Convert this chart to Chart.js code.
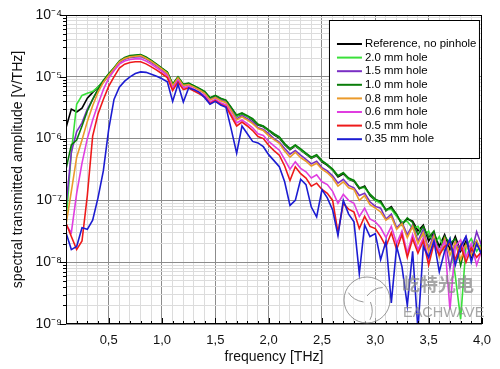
<!DOCTYPE html>
<html>
<head>
<meta charset="utf-8">
<style>body{margin:0;background:#fff}</style>
</head>
<body>
<canvas id="myChart" width="500" height="369"></canvas>
<script src="https://cdn.jsdelivr.net/npm/chart.js"></script>
<script>
// frequency axis, THz
const freq = [0.10,0.15,0.20,0.25,0.30,0.35,0.40,0.45,0.50,0.55,
  0.60,0.65,0.70,0.75,0.80,0.85,0.90,0.95,1.00,1.05,
  1.10,1.15,1.20,1.25,1.30,1.35,1.40,1.45,1.50,1.55,
  1.60,1.65,1.70,1.75,1.80,1.85,1.90,1.95,2.00,2.05,
  2.10,2.15,2.20,2.25,2.30,2.35,2.40,2.45,2.50,2.55,
  2.60,2.65,2.70,2.75,2.80,2.85,2.90,2.95,3.00,3.05,
  3.10,3.15,3.20,3.25,3.30,3.35,3.40,3.45,3.50,3.55,
  3.60,3.65,3.70,3.75,3.80,3.85,3.90,3.95,4.00];

// spectral amplitude, V/THz
const ref = [1.5e-6,3.0e-6,2.7e-6,3.1e-6,4.5e-6,5.6e-6,6.8e-6,8.5e-6,1.08e-5,1.35e-5,
  1.75e-5,2.0e-5,2.1e-5,2.15e-5,2.2e-5,2.0e-5,1.8e-5,1.55e-5,1.35e-5,1.17e-5,
  7.4e-6,9.8e-6,7.4e-6,7.7e-6,7.0e-6,6.3e-6,5.6e-6,4.5e-6,4.9e-6,4.4e-6,
  4.1e-6,3.1e-6,2.3e-6,2.5e-6,2.3e-6,2.0e-6,1.66e-6,1.55e-6,1.35e-6,1.15e-6,
  1.02e-6,8.0e-7,6.6e-7,7.6e-7,6.5e-7,5.6e-7,4.8e-7,5.3e-7,4.2e-7,3.7e-7,
  3.1e-7,2.4e-7,2.7e-7,2.2e-7,2.05e-7,1.55e-7,1.7e-7,1.2e-7,1.0e-7,9.8e-8,
  6.8e-8,7.9e-8,5.8e-8,4.2e-8,5.0e-8,4.6e-8,3.2e-8,4.0e-8,2.2e-8,3.0e-8,
  1.8e-8,2.8e-8,1.6e-8,2.6e-8,1.5e-8,2.2e-8,1.2e-8,2.0e-8,1.4e-8];
const hole20 = [4.5e-8,6.0e-7,3.6e-6,5.0e-6,5.4e-6,5.8e-6,6.8e-6,8.6e-6,1.1e-5,1.38e-5,
  1.78e-5,2.0e-5,2.15e-5,2.2e-5,2.25e-5,2.05e-5,1.82e-5,1.58e-5,1.36e-5,1.18e-5,
  7.5e-6,9.9e-6,7.5e-6,7.8e-6,7.1e-6,6.4e-6,5.7e-6,4.5e-6,4.9e-6,4.4e-6,
  4.1e-6,3.1e-6,2.3e-6,2.55e-6,2.3e-6,2.05e-6,1.7e-6,1.58e-6,1.36e-6,1.18e-6,
  1.05e-6,8.2e-7,6.8e-7,7.8e-7,6.6e-7,5.7e-7,4.9e-7,5.4e-7,4.3e-7,3.8e-7,
  3.1e-7,2.5e-7,2.8e-7,2.2e-7,2.1e-7,1.6e-7,1.6e-7,1.25e-7,1.0e-7,9.0e-8,
  7.0e-8,7.2e-8,5.5e-8,4.5e-8,4.6e-8,3.5e-8,3.8e-8,2.6e-8,3.2e-8,1.9e-8,
  2.6e-8,1.5e-8,2.4e-8,6.0e-9,1.2e-9,1.8e-8,2.4e-8,1.5e-8,2.0e-8];
const hole15 = [8.0e-8,6.0e-7,1.3e-6,1.8e-6,3.0e-6,4.3e-6,6.2e-6,8.2e-6,1.05e-5,1.32e-5,
  1.7e-5,1.92e-5,2.05e-5,2.1e-5,2.12e-5,1.95e-5,1.72e-5,1.5e-5,1.3e-5,1.12e-5,
  7.0e-6,9.4e-6,7.1e-6,7.5e-6,6.8e-6,6.1e-6,5.4e-6,4.3e-6,4.7e-6,4.2e-6,
  3.9e-6,2.9e-6,2.1e-6,2.35e-6,2.1e-6,1.85e-6,1.5e-6,1.4e-6,1.2e-6,1.0e-6,
  8.8e-7,6.9e-7,5.6e-7,6.4e-7,5.4e-7,4.6e-7,3.9e-7,4.3e-7,3.4e-7,3.0e-7,
  2.5e-7,1.9e-7,2.2e-7,1.75e-7,1.6e-7,1.2e-7,1.3e-7,9.5e-8,8.0e-8,7.5e-8,
  5.0e-8,6.0e-8,3.6e-8,4.4e-8,2.8e-8,4.0e-8,2.2e-8,3.4e-8,1.6e-8,2.9e-8,
  1.3e-8,2.5e-8,8.0e-9,2.2e-8,1.6e-8,2.6e-8,1.4e-8,3.1e-8,1.8e-8];
const hole10 = [3.2e-7,7.9e-7,9.5e-7,1.6e-6,2.8e-6,4.3e-6,6.3e-6,8.7e-6,1.12e-5,1.4e-5,
  1.8e-5,2.05e-5,2.2e-5,2.25e-5,2.3e-5,2.1e-5,1.85e-5,1.6e-5,1.38e-5,1.2e-5,
  7.6e-6,1.0e-5,7.6e-6,7.9e-6,7.2e-6,6.5e-6,5.8e-6,4.6e-6,5.0e-6,4.5e-6,
  4.2e-6,3.2e-6,2.4e-6,2.6e-6,2.35e-6,2.1e-6,1.7e-6,1.6e-6,1.38e-6,1.2e-6,
  1.07e-6,8.3e-7,6.9e-7,7.9e-7,6.8e-7,5.8e-7,5.0e-7,5.5e-7,4.4e-7,3.8e-7,
  3.2e-7,2.5e-7,2.8e-7,2.3e-7,2.1e-7,1.6e-7,1.66e-7,1.26e-7,1.05e-7,9.5e-8,
  7.1e-8,7.6e-8,6.0e-8,4.0e-8,5.2e-8,4.4e-8,2.8e-8,3.8e-8,2.5e-8,3.2e-8,
  1.4e-8,2.6e-8,2.0e-8,2.4e-8,8.9e-9,2.0e-8,1.6e-8,2.2e-8,1.26e-8];
const hole08 = [4.0e-8,1.4e-7,5.0e-7,9.5e-7,1.9e-6,3.4e-6,5.6e-6,8.1e-6,1.06e-5,1.35e-5,
  1.75e-5,1.98e-5,2.1e-5,2.15e-5,2.2e-5,2.0e-5,1.78e-5,1.54e-5,1.33e-5,1.14e-5,
  7.2e-6,9.6e-6,7.2e-6,7.5e-6,6.8e-6,6.1e-6,5.4e-6,4.2e-6,4.6e-6,4.1e-6,
  3.8e-6,2.8e-6,2.0e-6,2.25e-6,2.0e-6,1.75e-6,1.45e-6,1.35e-6,1.12e-6,9.6e-7,
  8.4e-7,6.3e-7,5.0e-7,6.0e-7,4.9e-7,4.3e-7,3.6e-7,4.0e-7,3.2e-7,2.8e-7,
  2.3e-7,1.7e-7,2.0e-7,1.6e-7,1.5e-7,1.0e-7,1.2e-7,8.5e-8,7.5e-8,6.5e-8,
  4.8e-8,5.5e-8,3.4e-8,4.2e-8,2.5e-8,3.8e-8,2.0e-8,3.0e-8,1.5e-8,2.6e-8,
  1.2e-8,2.4e-8,1.3e-8,2.1e-8,1.1e-8,1.9e-8,1.3e-8,2.2e-8,1.5e-8];
const hole06 = [4.0e-8,3.0e-8,1.3e-7,4.0e-7,1.0e-6,2.0e-6,3.6e-6,6.2e-6,9.5e-6,1.25e-5,
  1.6e-5,1.8e-5,1.9e-5,1.95e-5,1.95e-5,1.8e-5,1.6e-5,1.4e-5,1.22e-5,1.05e-5,
  6.5e-6,8.8e-6,6.6e-6,7.0e-6,6.3e-6,5.6e-6,5.0e-6,3.9e-6,4.3e-6,3.8e-6,
  3.5e-6,2.5e-6,1.8e-6,2.0e-6,1.75e-6,1.5e-6,1.2e-6,1.12e-6,9.0e-7,7.6e-7,
  6.5e-7,4.6e-7,3.2e-7,4.2e-7,3.3e-7,2.9e-7,2.3e-7,2.6e-7,2.0e-7,1.8e-7,
  1.4e-7,9.0e-8,1.25e-7,1.0e-7,9.0e-8,5.5e-8,7.5e-8,5.0e-8,4.5e-8,3.6e-8,
  2.5e-8,3.8e-8,2.0e-8,3.2e-8,1.4e-8,2.8e-8,1.6e-8,2.5e-8,1.1e-8,2.3e-8,
  1.5e-8,2.2e-8,1.7e-9,1.8e-8,2.3e-8,1.2e-8,2.0e-8,9.0e-9,1.6e-8];
const hole05 = [4.3e-8,2.6e-8,1.6e-8,2.2e-8,1.2e-7,1.1e-6,2.5e-6,4.3e-6,7.0e-6,1.0e-5,
  1.38e-5,1.6e-5,1.7e-5,1.75e-5,1.75e-5,1.62e-5,1.45e-5,1.28e-5,1.12e-5,9.7e-6,
  6.0e-6,8.2e-6,6.2e-6,6.6e-6,5.9e-6,5.3e-6,4.7e-6,3.7e-6,4.1e-6,3.6e-6,
  3.3e-6,2.3e-6,1.6e-6,1.85e-6,1.6e-6,1.35e-6,1.08e-6,1.0e-6,7.8e-7,6.4e-7,
  5.4e-7,3.6e-7,2.1e-7,3.5e-7,2.7e-7,2.3e-7,1.7e-7,1.9e-7,1.5e-7,1.3e-7,
  1.0e-7,3.0e-8,9.0e-8,7.2e-8,6.5e-8,3.5e-8,5.5e-8,3.8e-8,3.5e-8,2.6e-8,
  1.8e-8,3.0e-8,1.6e-8,2.8e-8,1.2e-8,2.4e-8,1.4e-8,2.2e-8,9.0e-9,2.0e-8,
  1.3e-8,1.8e-8,2.0e-8,1.1e-8,1.9e-8,1.0e-8,1.7e-8,1.2e-8,1.5e-8];
const hole035 = [3.0e-8,1.6e-8,1.8e-8,3.6e-8,3.4e-8,4.8e-8,1.1e-7,3.0e-7,1.4e-6,4.3e-6,
  6.8e-6,8.5e-6,1.0e-5,1.13e-5,1.2e-5,1.18e-5,1.1e-5,1.02e-5,9.3e-6,8.3e-6,
  4.0e-6,7.6e-6,3.9e-6,6.6e-6,6.2e-6,5.6e-6,4.6e-6,3.6e-6,4.0e-6,3.5e-6,
  3.2e-6,1.4e-6,5.8e-7,1.6e-6,1.2e-6,9.0e-7,8.5e-7,7.4e-7,5.5e-7,4.4e-7,
  3.5e-7,2.0e-7,8.3e-8,1.0e-7,2.2e-7,1.8e-7,7.8e-8,5.4e-8,1.5e-7,1.1e-7,
  7.0e-8,2.7e-8,1.0e-7,6.0e-8,4.5e-8,6.5e-9,4.0e-8,2.6e-8,2.9e-8,1.1e-8,
  2.2e-8,2.2e-9,1.8e-8,8.5e-9,2.0e-9,1.5e-8,8.0e-10,1.8e-8,1.2e-8,2.2e-8,
  7.0e-9,1.5e-8,2.4e-8,9.0e-9,1.8e-8,2.6e-8,1.0e-8,2.0e-8,1.3e-8];

const seriesNames = ['Reference, no pinhole','2.0 mm hole','1.5 mm hole','1.0 mm hole',
  '0.8 mm hole','0.6 mm hole','0.5 mm hole','0.35 mm hole'];
const seriesColors = ['#000000','#3ae03a','#7a2fc4','#0a7d0a','#eb9a2a','#e03ee0','#ee1a1a','#1c1cd2'];
const seriesData = [ref, hole20, hole15, hole10, hole08, hole06, hole05, hole035];

const xMajorTicks = [0.5,1.0,1.5,2.0,2.5,3.0,3.5,4.0];
const xTickLabels = ['0,5','1,0','1,5','2,0','2,5','3,0','3,5','4,0'];
const yMajorTicks = [1e-9,1e-8,1e-7,1e-6,1e-5,1e-4];
const yTickLabels = ['10\u207B\u2079','10\u207B\u2078','10\u207B\u2077','10\u207B\u2076','10\u207B\u2075','10\u207B\u2074'];

Chart.defaults.font.family = '"Liberation Sans", Arial, sans-serif';
Chart.defaults.color = '#111';

const gridColor = c => (c.tick && c.tick.label) ? '#8c8c8c' : '#dcdcdc';

// frame, tick marks, watermark and legend box
const decor = {
  id: 'decor',
  afterDatasetsDraw(chart) {
    const ctx = chart.ctx, a = chart.chartArea;
    const xs = chart.scales.x, ys = chart.scales.y;
    ctx.save();
    ctx.strokeStyle = '#000';
    ctx.lineWidth = 1;
    ctx.beginPath();
    xs.ticks.forEach(t => {
      const px = Math.round(xs.getPixelForValue(t.value)) + 0.5;
      const len = t.label ? 6 : 3;
      ctx.moveTo(px, a.bottom); ctx.lineTo(px, a.bottom - len);
    });
    ys.ticks.forEach(t => {
      const py = Math.round(ys.getPixelForValue(t.value)) + 0.5;
      const len = t.label ? 6 : 3;
      ctx.moveTo(a.left, py); ctx.lineTo(a.left - len, py);
    });
    ctx.stroke();
    ctx.strokeRect(Math.round(a.left) + 0.5, Math.round(a.top) + 0.5,
      Math.round(a.right - a.left) - 1, Math.round(a.bottom - a.top) - 1);

    // watermark
    const cx = a.left + 301, cy = a.bottom - 24;
    ctx.globalAlpha = 0.6;
    ctx.fillStyle = '#fff';
    ctx.beginPath(); ctx.arc(cx, cy, 23, 0, Math.PI * 2); ctx.fill();
    ctx.globalAlpha = 0.75;
    ctx.strokeStyle = '#777';
    ctx.beginPath(); ctx.arc(cx, cy, 23, 0, Math.PI * 2); ctx.stroke();
    ctx.beginPath();
    for (let k = 0; k < 3; k++) {
      const ang = -Math.PI / 2 + k * 2 * Math.PI / 3;
      ctx.moveTo(cx + 4 * Math.cos(ang), cy + 4 * Math.sin(ang));
      ctx.quadraticCurveTo(cx + 14 * Math.cos(ang + 0.5), cy + 14 * Math.sin(ang + 0.5),
        cx + 20 * Math.cos(ang + 0.9), cy + 20 * Math.sin(ang + 0.9));
    }
    ctx.stroke();
    ctx.fillStyle = '#8a8a8a';
    ctx.textBaseline = 'middle';
    ctx.font = 'bold 18px "Noto Sans CJK SC", sans-serif';
    ctx.fillText('屹特光电', a.left + 336, a.bottom - 40);
    ctx.font = '14.5px "Liberation Sans", Arial, sans-serif';
    ctx.fillText('EACHWAVE', a.left + 337, a.bottom - 11);
    ctx.globalAlpha = 1;

    // legend
    const lx = a.right - 153, ly = a.top + 5;
    ctx.fillStyle = '#fff';
    ctx.fillRect(lx, ly, 150, 138);
    ctx.strokeStyle = '#000';
    ctx.strokeRect(lx + 0.5, ly + 0.5, 150, 138);
    ctx.font = '11.4px "Liberation Sans", Arial, sans-serif';
    seriesNames.forEach((name, i) => {
      const y = ly + 24 + i * 13.6;
      ctx.strokeStyle = seriesColors[i];
      ctx.lineWidth = 2;
      ctx.beginPath(); ctx.moveTo(lx + 8, y); ctx.lineTo(lx + 33, y); ctx.stroke();
      ctx.fillStyle = '#000';
      ctx.fillText(name, lx + 36, y);
    });
    ctx.restore();
  }
};

const datasets = seriesData.map((vals, i) => ({
  label: seriesNames[i],
  data: vals.map((v, j) => ({x: freq[j], y: v})),
  borderColor: seriesColors[i],
  backgroundColor: seriesColors[i],
  borderWidth: 1.6,
  pointRadius: 0,
  tension: 0,
  fill: false,
  order: seriesData.length - 1 - i
}));

const myChart = new Chart('myChart', {
  type: 'line',
  data: {datasets: datasets},
  plugins: [decor],
  options: {
    responsive: false,
    animation: false,
    layout: {padding: {top: 15, right: 17, left: 0, bottom: 0}},
    plugins: {legend: {display: false}, tooltip: {enabled: false}},
    scales: {
      x: {
        type: 'linear', min: 0.1, max: 4.0,
        afterBuildTicks(scale) {
          const t = [];
          for (let k = 1; k <= 40; k++) t.push({value: k / 10});
          scale.ticks = t;
        },
        afterFit(scale) { scale.height = 45; },
        ticks: {
          autoSkip: false, maxRotation: 0, padding: 9, font: {size: 13},
          callback(value) {
            const j = xMajorTicks.findIndex(m => Math.abs(m - value) < 1e-6);
            return j < 0 ? '' : xTickLabels[j];
          }
        },
        grid: {color: gridColor, drawTicks: false},
        border: {display: false},
        title: {display: true, text: 'frequency [THz]', font: {size: 14}, padding: {top: 0, bottom: 3}}
      },
      y: {
        type: 'logarithmic', min: 1e-9, max: 1e-4,
        afterBuildTicks(scale) {
          const t = [];
          for (let n = -9; n < -4; n++)
            for (let k = 1; k < 10; k++) t.push({value: k * Math.pow(10, n)});
          t.push({value: 1e-4});
          scale.ticks = t;
        },
        afterFit(scale) { scale.width = 66; },
        ticks: {
          autoSkip: false, padding: 4, font: {size: 14},
          callback(value) {
            const j = yMajorTicks.findIndex(m => Math.abs(value / m - 1) < 1e-6);
            return j < 0 ? '' : yTickLabels[j];
          }
        },
        grid: {color: gridColor, drawTicks: false},
        border: {display: false},
        title: {display: true, text: 'spectral transmitted amplitude [V/THz]', font: {size: 14}, padding: {top: 10, bottom: 0}}
      }
    }
  }
});
</script>
</body>
</html>
